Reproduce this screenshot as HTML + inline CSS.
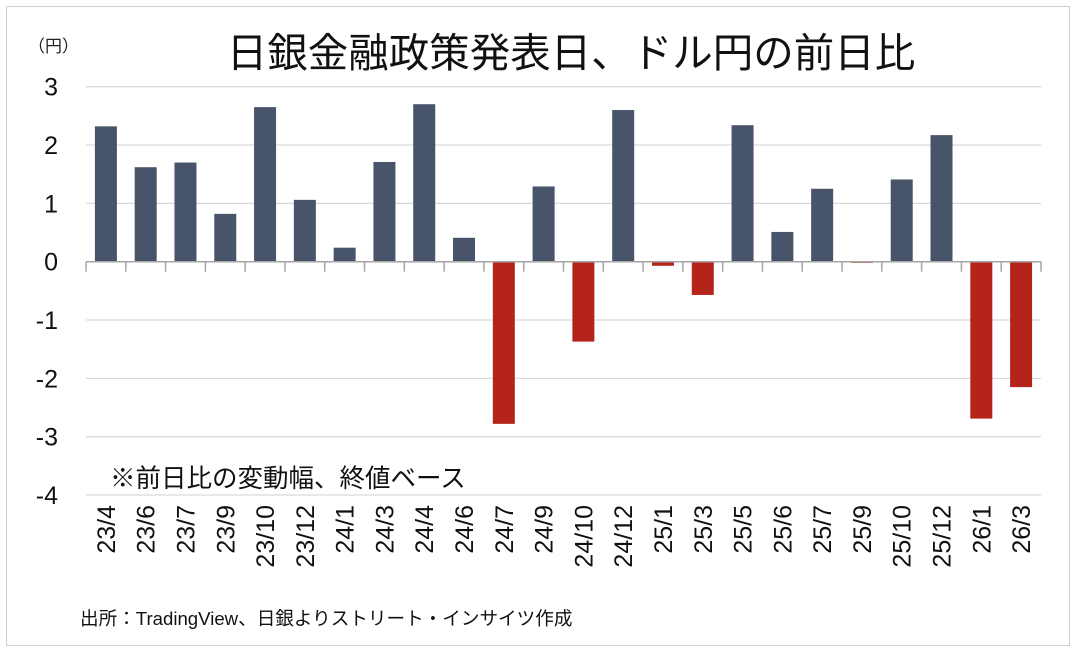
<!DOCTYPE html>
<html><head><meta charset="utf-8"><style>
body{margin:0;background:#fff;font-family:"Liberation Sans","Noto Sans CJK JP",sans-serif}
</style></head><body>
<svg width="1078" height="654" xmlns="http://www.w3.org/2000/svg" style="font-family:'Liberation Sans','Noto Sans CJK JP',sans-serif">
<rect x="6.5" y="6.5" width="1063" height="639" fill="#fff" stroke="#d0d0d0"/>
<text x="571" y="67" font-size="40.5" text-anchor="middle" fill="#111">日銀金融政策発表日、ドル円の前日比</text>
<text x="28" y="52" font-size="17" fill="#222">（円）</text>
<g id="grid"></g><g id="bars"></g><g id="axis"></g>
<text x="110" y="487" font-size="25.5" fill="#111">※前日比の変動幅、終値ベース</text>
<text x="80" y="625" font-size="18.6" fill="#111">出所：TradingView、日銀よりストリート・インサイツ作成</text>
</svg>
<script>
const categories=["23/4","23/6","23/7","23/9","23/10","23/12","24/1","24/3","24/4","24/6","24/7","24/9","24/10","24/12","25/1","25/3","25/5","25/6","25/7","25/9","25/10","25/12","26/1","26/3"];
const values=[2.32,1.62,1.70,0.82,2.65,1.06,0.24,1.71,2.70,0.41,-2.78,1.29,-1.37,2.60,-0.07,-0.57,2.34,0.51,1.25,-0.02,1.41,2.17,-2.69,-2.15];
const yTicks=[3,2,1,0,-1,-2,-3,-4];
const NS="http://www.w3.org/2000/svg";
const x0=86,x1=1041,yTop=86.7,unit=58.33;
const y=v=>yTop+(3-v)*unit;
const bw=(x1-x0)/categories.length;
const xc=i=>x0+bw*(i+0.5);
function mk(t,a,p){const e=document.createElementNS(NS,t);for(const k in a)e.setAttribute(k,a[k]);p.appendChild(e);return e;}
const g=document.getElementById('grid'),b=document.getElementById('bars'),ax=document.getElementById('axis');
yTicks.forEach(t=>{
 if(t!==0){const l=mk('line',{x1:x0,x2:x1,y1:y(t),y2:y(t),stroke:'#d9d9d9','stroke-width':1.3},g);
 
 }
 const tx=mk('text',{x:58,y:y(t)+9,'font-size':25,'text-anchor':'end',fill:'#111'},g);
 tx.textContent=t;
 
 
});
values.forEach((v,i)=>{
 const r=mk('rect',{x:xc(i)-11,width:22,y:Math.min(y(v),y(0)),height:Math.abs(y(v)-y(0)),fill:v>=0?'#48546a':'#b5241b'},b);
 
 
 const tx=mk('text',{x:0,y:0,'font-size':25,'text-anchor':'end',fill:'#111',transform:`translate(${xc(i)+9},505) rotate(-90)`},ax);
 tx.textContent=categories[i];
 
 
});
const za=mk('line',{x1:x0,x2:x1,y1:y(0),y2:y(0),stroke:'#a6a6a6','stroke-width':1.5},ax);


for(let i=0;i<=categories.length;i++){
 const t=mk('line',{x1:x0+bw*i,x2:x0+bw*i,y1:y(0),y2:y(0)+10,stroke:'#a6a6a6','stroke-width':1.5},ax);
 
 
}
</script>
</body></html>
